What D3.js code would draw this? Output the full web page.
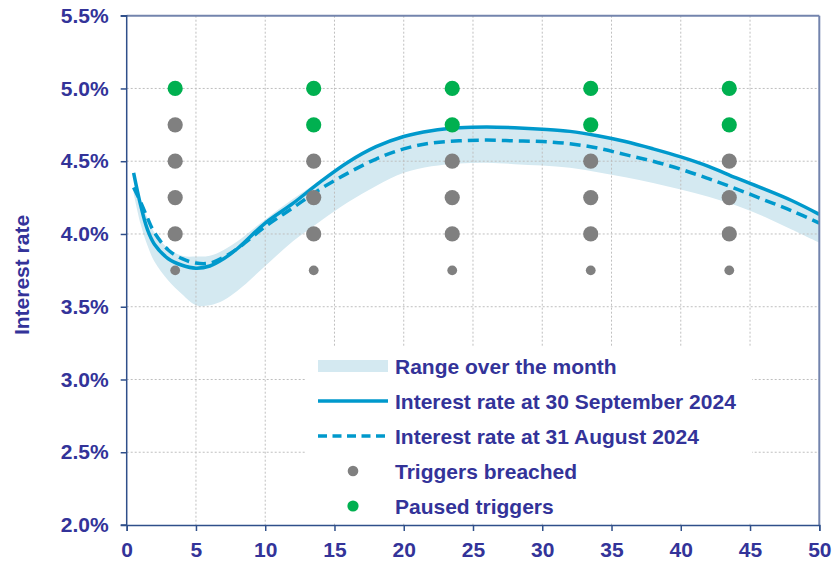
<!DOCTYPE html>
<html>
<head>
<meta charset="utf-8">
<script src="https://cdn.jsdelivr.net/npm/d3@7/dist/d3.min.js"></script>
<style>
  body { margin: 0; background: #fff; }
  svg text { font-family: "Liberation Sans", Arial, sans-serif; font-weight: bold; fill: #333399; }
</style>
</head>
<body>
<svg id="chart" width="832" height="563"></svg>
<script>

// maturity (years) and curves
const maturities = [0.5, 1, 1.5, 2, 3, 4, 5, 6, 7, 8, 10, 12, 14, 16, 18, 20, 22, 24, 26, 28, 30, 32, 34, 36, 38, 40, 42, 44, 46, 48, 50];
const rateSep = [4.42, 4.20, 4.03, 3.93, 3.83, 3.785, 3.765, 3.78, 3.83, 3.90, 4.075, 4.21, 4.36, 4.495, 4.60, 4.67, 4.71, 4.73, 4.735, 4.73, 4.72, 4.705, 4.675, 4.635, 4.585, 4.53, 4.465, 4.385, 4.31, 4.23, 4.135];
const rateAug = [4.32, 4.22, 4.11, 4.01, 3.89, 3.83, 3.80, 3.80, 3.84, 3.90, 4.05, 4.18, 4.31, 4.42, 4.515, 4.585, 4.625, 4.64, 4.645, 4.64, 4.635, 4.62, 4.59, 4.545, 4.50, 4.445, 4.38, 4.31, 4.235, 4.16, 4.075];
const rangeLow = [4.28, 4.07, 3.92, 3.81, 3.68, 3.585, 3.51, 3.51, 3.545, 3.61, 3.78, 3.95, 4.09, 4.22, 4.33, 4.42, 4.465, 4.485, 4.49, 4.48, 4.47, 4.455, 4.425, 4.39, 4.35, 4.305, 4.255, 4.195, 4.12, 4.03, 3.94];
const rangeHigh = [4.32, 4.22, 4.11, 4.01, 3.90, 3.85, 3.845, 3.85, 3.89, 3.95, 4.10, 4.24, 4.37, 4.495, 4.60, 4.67, 4.71, 4.73, 4.735, 4.73, 4.72, 4.705, 4.675, 4.635, 4.585, 4.53, 4.465, 4.385, 4.31, 4.23, 4.135];

// trigger dots
const triggerTerms = [3.5, 13.5, 23.5, 33.5, 43.5];
const breachedLevels = [[4.75, 4.5, 4.25, 4.0], [4.5, 4.25, 4.0], [4.5, 4.25, 4.0], [4.5, 4.25, 4.0], [4.5, 4.25, 4.0]];
const pausedLevels = [[5.0], [5.0, 4.75], [5.0, 4.75], [5.0, 4.75], [5.0, 4.75]];
const minorLevels = [[3.75], [3.75], [3.75], [3.75], [3.75]];

const xTicks = [0, 5, 10, 15, 20, 25, 30, 35, 40, 45, 50];
const yTicks = [2.0, 2.5, 3.0, 3.5, 4.0, 4.5, 5.0, 5.5];

const legendLabels = ['Range over the month', 'Interest rate at 30 September 2024',
                      'Interest rate at 31 August 2024', 'Triggers breached', 'Paused triggers'];

const colors = {line: '#0099cc', band: '#d4e9f1', breached: '#808080', paused: '#00b050',
                grid: '#bfbfbf', axis: '#2f4f8a', frame: '#7384ad'};

const margin = {top: 15.7, right: 12.7, bottom: 38, left: 126.7};
const W = 832, H = 563;
const w = W - margin.left - margin.right;
const h = H - margin.top - margin.bottom;

const svg = d3.select('#chart');
const g = svg.append('g').attr('transform', 'translate(' + margin.left + ',' + margin.top + ')');

const x = d3.scaleLinear().domain([0, 50]).range([0, w]);
const y = d3.scaleLinear().domain([2.0, 5.5]).range([h, 0]);

const smooth = d3.curveCatmullRom.alpha(0.5);

const pts = maturities.map(function(m, i) {
    return {m: m, sep: rateSep[i], aug: rateAug[i], lo: rangeLow[i], hi: rangeHigh[i]};
});

// band
g.append('path')
    .datum(pts)
    .attr('fill', colors.band)
    .attr('d', d3.area()
        .curve(smooth)
        .x(function(d) { return x(d.m); })
        .y0(function(d) { return y(d.lo); })
        .y1(function(d) { return y(d.hi); }));

// grid
g.append('g').selectAll('line')
    .data(xTicks.slice(1, -1))
    .enter().append('line')
    .attr('x1', function(d) { return x(d); })
    .attr('x2', function(d) { return x(d); })
    .attr('y1', 0).attr('y2', h)
    .attr('stroke', colors.grid).attr('stroke-dasharray', '2,2');

g.append('g').selectAll('line')
    .data(yTicks.slice(1, -1))
    .enter().append('line')
    .attr('x1', 0).attr('x2', w)
    .attr('y1', function(d) { return y(d); })
    .attr('y2', function(d) { return y(d); })
    .attr('stroke', colors.grid).attr('stroke-dasharray', '2,2');

// legend background hides the grid
const lg = svg.append('g').attr('id', 'legend');
lg.append('rect')
    .attr('x', 305).attr('y', 347).attr('width', 447).attr('height', 176)
    .attr('fill', '#fff');

// curves
const lineSep = d3.line().curve(smooth)
    .x(function(d) { return x(d.m); }).y(function(d) { return y(d.sep); });
const lineAug = d3.line().curve(smooth)
    .x(function(d) { return x(d.m); }).y(function(d) { return y(d.aug); });

g.append('path').datum(pts)
    .attr('d', lineAug)
    .attr('fill', 'none').attr('stroke', colors.line)
    .attr('stroke-width', 3.5).attr('stroke-dasharray', '11,6');

g.append('path').datum(pts)
    .attr('d', lineSep)
    .attr('fill', 'none').attr('stroke', colors.line)
    .attr('stroke-width', 3.5);

// trigger dots
function dotData(levels) {
    var out = [];
    triggerTerms.forEach(function(t, i) {
        levels[i].forEach(function(v) { out.push({t: t, v: v}); });
    });
    return out;
}

g.append('g').selectAll('circle')
    .data(dotData(breachedLevels))
    .enter().append('circle')
    .attr('cx', function(d) { return x(d.t); })
    .attr('cy', function(d) { return y(d.v); })
    .attr('r', 7.6)
    .attr('fill', colors.breached);

g.append('g').selectAll('circle')
    .data(dotData(minorLevels))
    .enter().append('circle')
    .attr('cx', function(d) { return x(d.t); })
    .attr('cy', function(d) { return y(d.v); })
    .attr('r', 4.9)
    .attr('fill', colors.breached);

g.append('g').selectAll('circle')
    .data(dotData(pausedLevels))
    .enter().append('circle')
    .attr('cx', function(d) { return x(d.t); })
    .attr('cy', function(d) { return y(d.v); })
    .attr('r', 7.6)
    .attr('fill', colors.paused);

// frame (top and right)
g.append('line').attr('x1', 0).attr('x2', w).attr('y1', 0).attr('y2', 0)
    .attr('stroke', colors.frame).attr('stroke-width', 2);
g.append('line').attr('x1', w).attr('x2', w).attr('y1', 0).attr('y2', h)
    .attr('stroke', colors.frame).attr('stroke-width', 2);

// axes
const yAxis = g.append('g')
    .call(d3.axisLeft(y).tickValues(yTicks).tickSize(6).tickPadding(12)
        .tickFormat(function(d) { return d3.format('.1f')(d) + '%'; }));
const xAxis = g.append('g')
    .attr('transform', 'translate(0,' + h + ')')
    .call(d3.axisBottom(x).tickValues(xTicks).tickSize(6).tickPadding(11));

[yAxis, xAxis].forEach(function(a) {
    a.select('.domain').attr('stroke', colors.axis).attr('stroke-width', 1.5);
    a.selectAll('.tick line').attr('stroke', colors.axis).attr('stroke-width', 1.5);
    a.selectAll('text').attr('font-size', 21).style('font-family', null);
});
yAxis.select('.domain').attr('d', 'M-6,0H0V' + h + 'H-6');

svg.append('text')
    .attr('transform', 'translate(29,275) rotate(-90)')
    .attr('text-anchor', 'middle')
    .attr('font-size', 21)
    .text('Interest rate');

// legend entries
const rowY = d3.range(legendLabels.length).map(function(i) { return 366 + i * 35; });

lg.append('rect')
    .attr('x', 318).attr('y', rowY[0] - 6).attr('width', 70).attr('height', 12)
    .attr('fill', colors.band);
lg.append('line')
    .attr('x1', 318).attr('x2', 388).attr('y1', rowY[1]).attr('y2', rowY[1])
    .attr('stroke', colors.line).attr('stroke-width', 3.5);
lg.append('line')
    .attr('x1', 318).attr('x2', 388).attr('y1', rowY[2]).attr('y2', rowY[2])
    .attr('stroke', colors.line).attr('stroke-width', 3.5).attr('stroke-dasharray', '9,5.5');
lg.append('circle')
    .attr('cx', 353).attr('cy', rowY[3]).attr('r', 5.3).attr('fill', colors.breached);
lg.append('circle')
    .attr('cx', 353).attr('cy', rowY[4]).attr('r', 5.6).attr('fill', colors.paused);

lg.selectAll('text')
    .data(legendLabels)
    .enter().append('text')
    .attr('x', 395)
    .attr('y', function(d, i) { return rowY[i]; })
    .attr('dy', '0.36em')
    .attr('font-size', 21)
    .text(function(d) { return d; });

</script>
</body>
</html>
